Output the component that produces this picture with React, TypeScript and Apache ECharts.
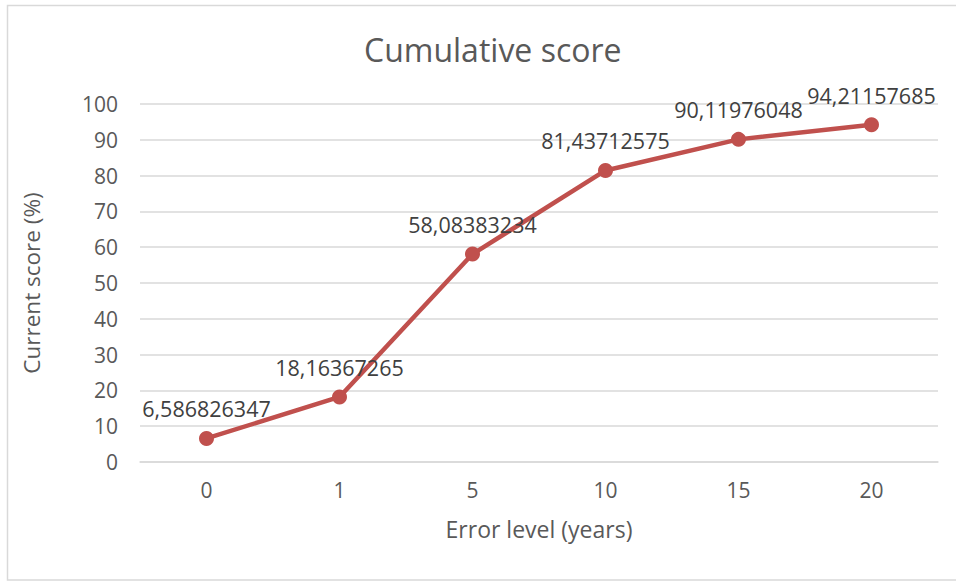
import React, { useEffect, useRef } from "react";
import * as echarts from "echarts";

const categories = ["0", "1", "5", "10", "15", "20"];
const scores = [6.586826347, 18.16367265, 58.08383234, 81.43712575, 90.11976048, 94.21157685];
const yTicks = { min: 0, max: 100, interval: 10 };

const FONT = "'Open Sans', 'Noto Sans', sans-serif";
const TXT = "#595959";

export default function App() {
  const ref = useRef<HTMLDivElement>(null);
  useEffect(() => {
    document.body.style.margin = "0";
    const chart = echarts.init(ref.current!, null, { renderer: "svg" });
    chart.setOption({
      animation: false,
      backgroundColor: "#ffffff",
      textStyle: { fontFamily: FONT },
      title: {
        text: "Cumulative score",
        left: 359,
        top: 28,
        textStyle: { fontFamily: FONT, fontSize: 32, fontWeight: "normal", color: TXT },
      },
      graphic: [
        {
          type: "rect",
          shape: { x: 7.5, y: 5.5, width: 960, height: 574.5 },
          style: { fill: "none", stroke: "#d9d9d9", lineWidth: 1.5 },
          silent: true,
        },
      ],
      grid: { left: 140, right: 18, top: 104, bottom: 119 },
      xAxis: {
        type: "category",
        data: categories,
        boundaryGap: true,
        name: "Error level (years)",
        nameLocation: "middle",
        nameGap: 55,
        nameTextStyle: { fontFamily: FONT, fontSize: 23, color: TXT },
        axisLine: { show: true, lineStyle: { color: "#d9d9d9", width: 1.5 } },
        axisTick: { show: false },
        axisLabel: { fontFamily: FONT, fontSize: 21, color: TXT, margin: 17 },
      },
      yAxis: {
        type: "value",
        min: yTicks.min,
        max: yTicks.max,
        interval: yTicks.interval,
        name: "Current score (%)",
        nameLocation: "middle",
        nameGap: 97,
        nameRotate: 90,
        nameTextStyle: { fontFamily: FONT, fontSize: 22.5, color: TXT },
        axisLine: { show: false },
        axisTick: { show: false },
        axisLabel: { fontFamily: FONT, fontSize: 21, color: TXT, margin: 22 },
        splitLine: { lineStyle: { color: "#d9d9d9", width: 1.5 } },
      },
      series: [
        {
          type: "line",
          data: scores,
          symbol: "circle",
          symbolSize: 15,
          lineStyle: { color: "#c0504d", width: 4.5 },
          itemStyle: { color: "#c0504d" },
          label: {
            show: true,
            position: "top",
            distance: 11,
            fontFamily: FONT,
            fontSize: 21.5,
            color: "#404040",
            formatter: (p: any) => String(p.value).replace(".", ","),
          },
        },
      ],
    });
    return () => chart.dispose();
  }, []);
  return <div ref={ref} style={{ width: 956, height: 581 }} />;
}
